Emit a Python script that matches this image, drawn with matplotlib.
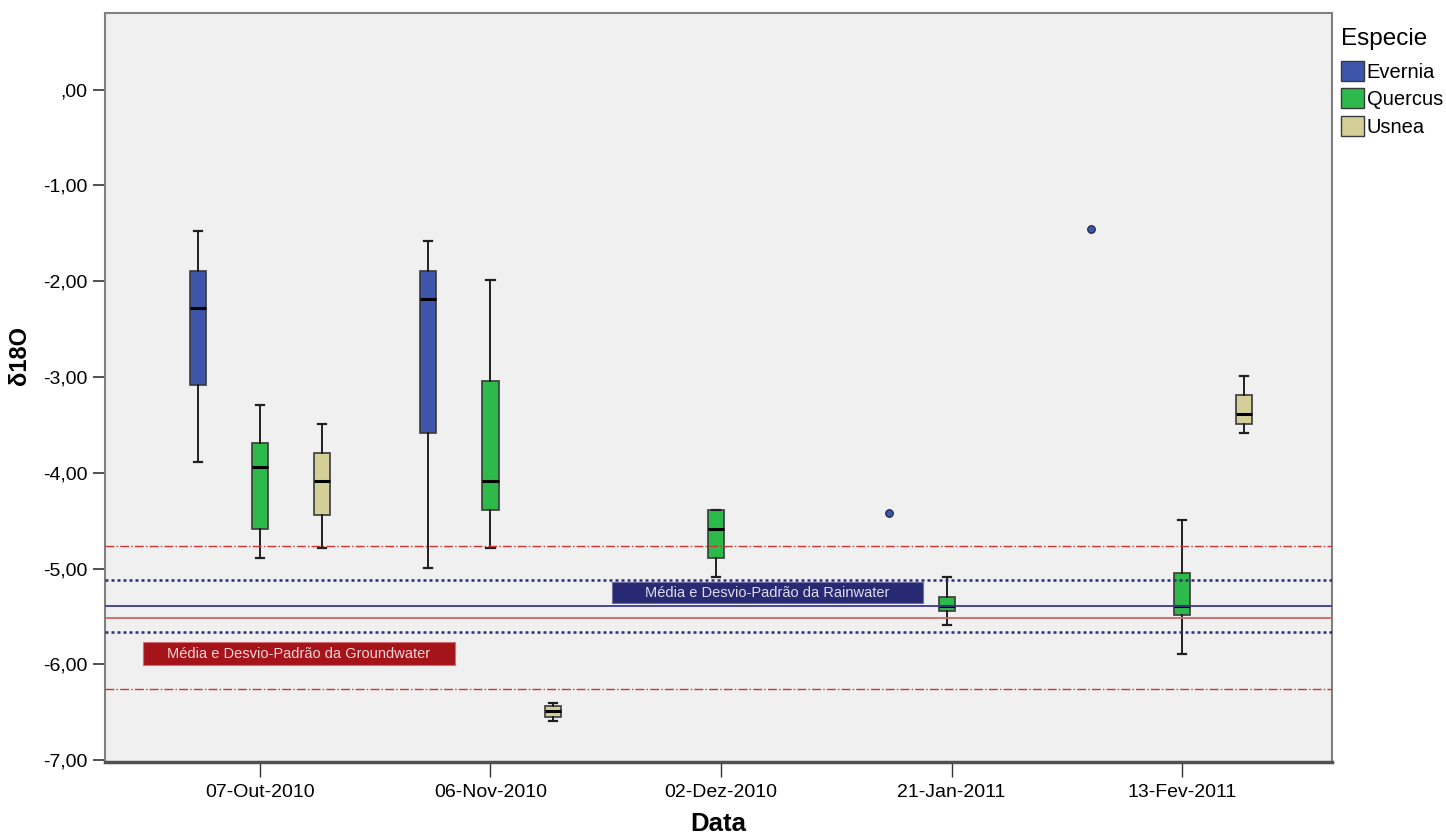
import matplotlib
matplotlib.use("Agg")
import matplotlib.pyplot as plt
from matplotlib.patches import Patch, Rectangle
from matplotlib.ticker import FuncFormatter

plt.rcParams['font.family'] = ['Liberation Sans', 'DejaVu Sans']

# data
dates = ['07-Out-2010', '06-Nov-2010', '02-Dez-2010', '21-Jan-2011', '13-Fev-2011']
species = ['Evernia', 'Quercus', 'Usnea']
colors = ['#3D56AA', '#2EB94B', '#D4CF98']

# (whisker low, Q1, median, Q3, whisker high) per date, None = no data
evernia = [(-3.89, -3.08, -2.28, -1.89, -1.48),
           (-4.99, -3.59, -2.19, -1.89, -1.58),
           None, None, None]
quercus = [(-4.89, -4.59, -3.94, -3.69, -3.29),
           (-4.79, -4.39, -4.09, -3.04, -1.99),
           (-5.09, -4.89, -4.59, -4.39, -4.39),
           (-5.59, -5.44, -5.39, -5.30, -5.09),
           (-5.89, -5.49, -5.39, -5.05, -4.49)]
usnea = [(-4.79, -4.44, -4.09, -3.79, -3.49),
         (-6.59, -6.55, -6.49, -6.44, -6.40),
         None, None,
         (-3.59, -3.49, -3.39, -3.19, -2.99)]
series = [evernia, quercus, usnea]

# Evernia outliers (date index, value)
outlier_idx = [3, 4]
outlier_val = [-4.42, -1.45]

rain_mean, rain_sd = -5.39, 0.275
ground_mean, ground_sd = -5.515, 0.745

fig = plt.figure(figsize=(14.46, 8.34), dpi=100)
ax = fig.add_axes([105/1446, 1-762/834, 1227/1446, 749/834])
ax.set_facecolor('#F0F0F0')

offsets = [-0.27, 0.0, 0.27]
width = 0.07
for s, (data, col, off) in enumerate(zip(series, colors, offsets)):
    stats, pos = [], []
    for i, st in enumerate(data):
        if st is None:
            continue
        lo, q1, med, q3, hi = st
        stats.append(dict(whislo=lo, q1=q1, med=med, q3=q3, whishi=hi, fliers=[]))
        # lone boxes in Dez/Jan sit slightly left of the tick
        pos.append(i + off - (0.02 if i in (2, 3) else 0))
    ax.bxp(stats, positions=pos, widths=width, patch_artist=True, showfliers=False,
           boxprops=dict(facecolor=col, edgecolor='#3a3a3a', linewidth=1.2),
           medianprops=dict(color='black', linewidth=2.2),
           whiskerprops=dict(color='#202020', linewidth=1.4),
           capprops=dict(color='#202020', linewidth=1.6),
           capwidths=width * 0.5, manage_ticks=False, zorder=2)

# outliers (the February point sits a bit left of its box slot)
ox = [outlier_idx[0] + offsets[0], outlier_idx[1] - 0.395]
ax.scatter(ox, outlier_val, s=30, color=colors[0], edgecolor='#1a1a3a',
           linewidth=0.8, zorder=3)

# reference lines
ax.axhline(ground_mean + ground_sd, color='#D03535', lw=1.0, ls='-.', zorder=4)
ax.axhline(ground_mean - ground_sd, color='#D03535', lw=1.0, ls='-.', zorder=4)
ax.axhline(rain_mean + rain_sd, color='#2B2B85', lw=1.8, ls=(0, (1.2, 1.2)), zorder=4)
ax.axhline(rain_mean - rain_sd, color='#2B2B85', lw=1.8, ls=(0, (1.2, 1.2)), zorder=4)
ax.axhline(rain_mean, color='#3A3A95', lw=1.3, zorder=4)
ax.axhline(ground_mean, color='#D06565', lw=1.3, zorder=4)

# annotation labels
ax.add_patch(Rectangle((-0.509, -6.01), 1.356, 0.242, facecolor='#A5141A',
                       edgecolor='#D07070', lw=0.8, zorder=5))
ax.text(0.169, -5.889, 'Média e Desvio-Padrão da Groundwater', color='#F2D6D6',
        fontsize=10.5, ha='center', va='center', zorder=6)
ax.add_patch(Rectangle((1.526, -5.365), 1.352, 0.226, facecolor='#272A72',
                       edgecolor='#7070A0', lw=0.8, zorder=5))
ax.text(2.202, -5.252, 'Média e Desvio-Padrão da Rainwater', color='#DCDCEA',
        fontsize=10.5, ha='center', va='center', zorder=6)

ax.set_xlim(-0.672, 4.65)
ax.set_ylim(-7.02, 0.80)
ax.set_xticks(range(len(dates)))
ax.set_xticklabels(dates, fontsize=14)
ax.set_yticks([0, -1, -2, -3, -4, -5, -6, -7])
ax.yaxis.set_major_formatter(FuncFormatter(
    lambda v, p: ',00' if v == 0 else ('%.2f' % v).replace('.', ',')))
ax.tick_params(axis='y', labelsize=14, length=9, width=1.2, color='#333333')
ax.tick_params(axis='x', length=11, width=1.0, color='#333333', pad=5)
for sp in ax.spines.values():
    sp.set_color('#808080')
    sp.set_linewidth(1.5)
ax.spines['bottom'].set_color('#505050')
ax.spines['bottom'].set_linewidth(2.5)

ax.set_xlabel('Data', fontsize=18.5, fontweight='bold', labelpad=8)
ax.set_ylabel('δ18O', fontsize=17, fontweight='bold')
ax.yaxis.set_label_coords(-0.06, 0.543)

handles = [Patch(facecolor=c, edgecolor='#3a3a3a', label=n) for c, n in zip(colors, species)]
leg = fig.legend(handles=handles, title='Especie', loc='upper left',
                 bbox_to_anchor=(1333/1446, 1-20/834), frameon=False,
                 fontsize=14.5, title_fontsize=17.5, handlelength=1.15, handleheight=1.15,
                 handletextpad=0.12, labelspacing=0.32, borderaxespad=0.0)
leg._legend_box.align = 'left'
leg._legend_box.sep = 8

fig.savefig('out.png', dpi=100)
